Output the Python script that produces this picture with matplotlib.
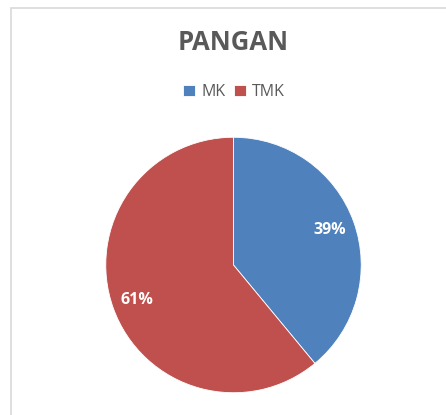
import matplotlib.pyplot as plt
from matplotlib.patches import Rectangle

labels = ['MK', 'TMK']
values = [39, 61]
colors = ['#4F81BD', '#C0504D']

plt.rcParams['font.family'] = ['Open Sans', 'DejaVu Sans']

W, H = 446, 415
fig = plt.figure(figsize=(W / 100, H / 100), dpi=100)

# light grey chart frame (left and top edges visible)
fig.patches.append(Rectangle((11 / W, -0.1), 1.0, (H - 8) / H + 0.1,
                             transform=fig.transFigure, fill=False,
                             edgecolor='#d9d9d9', linewidth=1.2))

# pie: centre ~(233.5, 265) px, radius ~129 px
cx, cy, r = 233.5, 265, 129
ax = fig.add_axes([(cx - r) / W, (H - cy - r) / H, 2 * r / W, 2 * r / H])
wedges, texts, autotexts = ax.pie(values, colors=colors, startangle=90,
                                  counterclock=False, autopct='%1.0f%%',
                                  pctdistance=0.8,
                                  wedgeprops=dict(edgecolor='white', linewidth=0.6))
for t in autotexts:
    t.set_color('white')
    t.set_fontweight('bold')
    t.set_fontsize(11.5)
ax.set_xlim(-1.01, 1.01)
ax.set_ylim(-1.01, 1.01)

fig.text(233 / W, 1 - 42 / H, 'PANGAN', ha='center', va='center',
         fontsize=18.5, fontweight='bold', color='#595959')

fig.legend(wedges, labels, loc='center', bbox_to_anchor=(234 / W, 1 - 92 / H),
           ncol=2, frameon=False, handlelength=0.75, handleheight=0.75,
           handletextpad=0.4, columnspacing=0.5, fontsize=11.5,
           labelcolor='#595959')

fig.savefig('out.png', dpi=100)
